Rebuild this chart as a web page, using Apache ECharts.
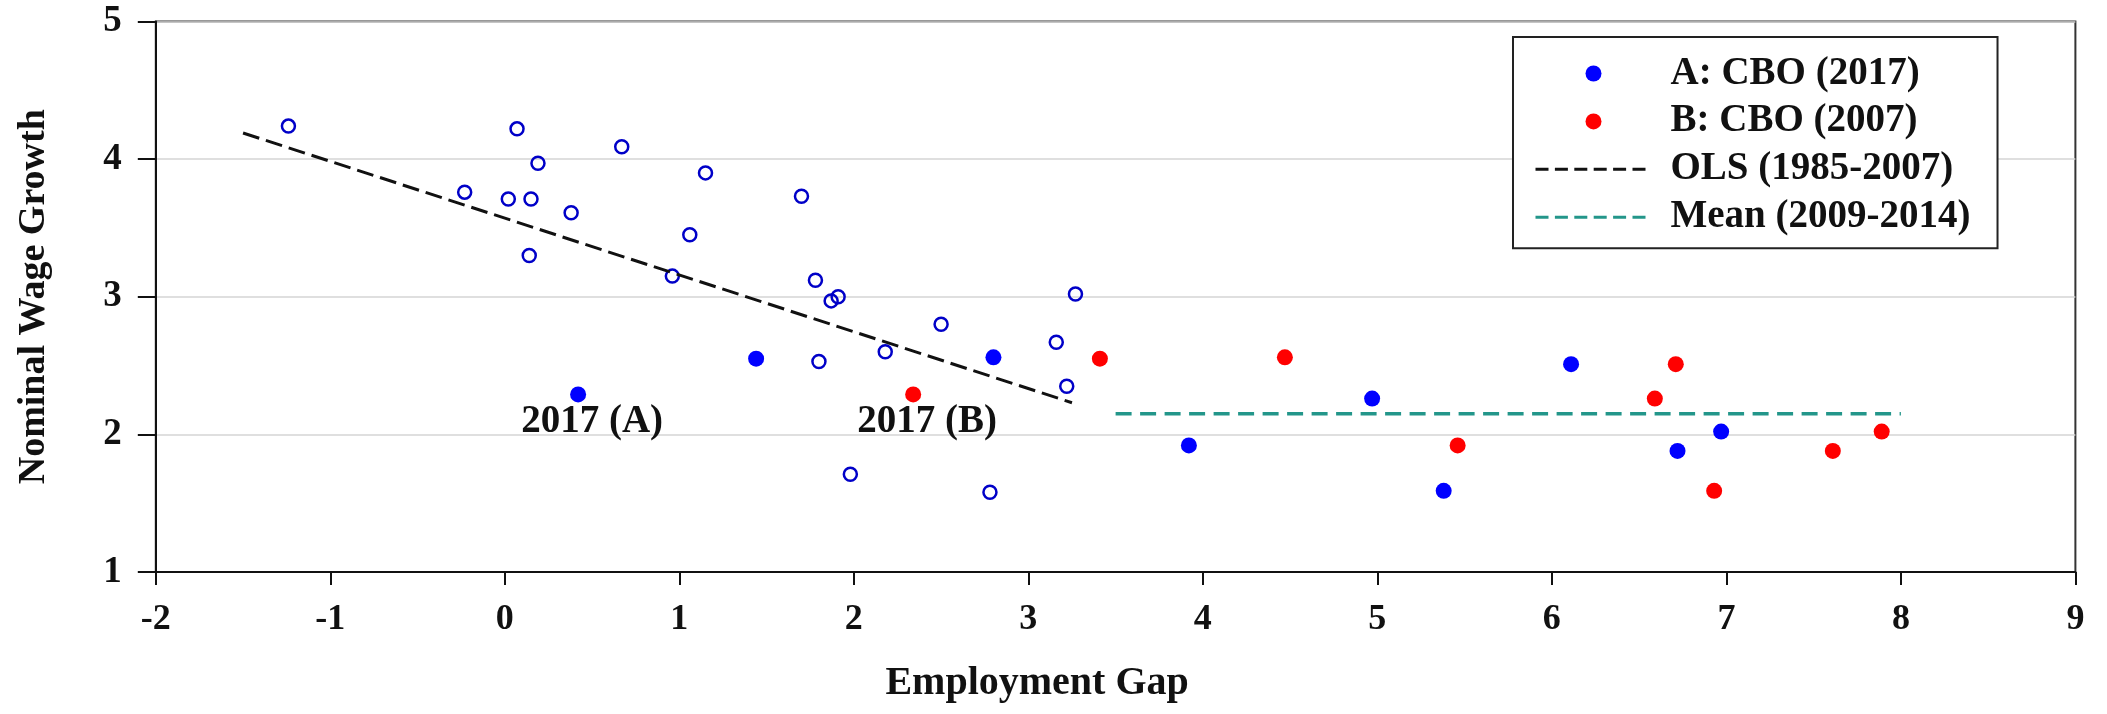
<!DOCTYPE html>
<html>
<head>
<meta charset="utf-8">
<title>Nominal Wage Growth vs Employment Gap</title>
<script src="https://cdn.jsdelivr.net/npm/echarts@6/dist/echarts.min.js"></script>
<style>
  html, body { margin: 0; padding: 0; background: #ffffff; }
  #chart { width: 2107px; height: 714px; }
</style>
</head>
<body>
<div id="chart"></div>
<script>
// Historical observations, 1985-2007: [employment gap, nominal wage growth]
const historical = [
  [-1.24, 4.24], [0.07, 4.22], [0.67, 4.09], [0.19, 3.97], [1.15, 3.90],
  [-0.23, 3.76], [0.02, 3.71], [0.15, 3.71], [0.38, 3.61], [1.06, 3.45],
  [0.14, 3.30], [0.96, 3.15], [1.70, 3.73], [1.78, 3.12], [1.91, 3.00],
  [1.87, 2.97], [3.27, 3.02], [1.80, 2.53], [2.18, 2.60], [2.50, 2.80],
  [3.16, 2.67], [3.22, 2.35], [1.98, 1.71], [2.78, 1.58]
];

// Post-crisis years with the gap measured against the CBO 2017 potential (A)
const cboA = [
  [0.42, 2.29], [1.44, 2.55], [2.80, 2.56], [3.92, 1.92], [4.97, 2.26],
  [5.38, 1.59], [6.11, 2.51], [6.72, 1.88], [6.97, 2.02]
];

// The same years measured against the CBO 2007 potential (B)
const cboB = [
  [2.34, 2.29], [3.41, 2.55], [4.47, 2.56], [5.46, 1.92], [6.59, 2.26],
  [6.71, 2.51], [6.93, 1.59], [7.61, 1.88], [7.89, 2.02]
];

// Fitted OLS line over 1985-2007 (end points)
const olsFit = [[-1.5, 4.19], [3.25, 2.23]];

// Mean wage growth 2009-2014 (end points)
const meanLine = [[3.5, 2.15], [8.0, 2.15]];

const seriesNames = ['A: CBO (2017)', 'B: CBO (2007)', 'OLS (1985-2007)', 'Mean (2009-2014)'];
const annotationA = '2017 (A)';
const annotationB = '2017 (B)';
const xTitle = 'Employment Gap';
const yTitle = 'Nominal Wage Growth';

const SERIF = '"Liberation Serif", "Times New Roman", serif';
const INK = '#111111';
const BLUE = '#0000ff';
const RED = '#ff0000';
const TEAL = '#23968a';

// Tag the first point of each CBO series (2017) with its annotation
function withAnnotation(points, text) {
  return points.map(function (p, i) {
    if (i !== 0) return p;
    return {
      value: p,
      label: {
        show: true,
        formatter: text,
        position: 'bottom',
        distance: 0,
        offset: [14, 0],
        fontFamily: SERIF,
        fontWeight: 'bold',
        fontSize: 39,
        color: INK,
        opacity: 1
      }
    };
  });
}

// Legend entries for the two reference lines show only the dashed stroke
const hiddenDot = { color: 'rgba(0,0,0,0)', borderColor: 'rgba(0,0,0,0)', borderWidth: 0 };

const chart = echarts.init(document.getElementById('chart'), null, { renderer: 'canvas' });

chart.setOption({
  animation: false,
  backgroundColor: '#ffffff',
  grid: {
    left: 155.8, right: 31.6, top: 21.5, bottom: 142,
    containLabel: false,
    outerBoundsMode: 'none',
    show: true,
    borderColor: '#333333',
    borderWidth: 2,
    backgroundColor: 'transparent'
  },
  legend: {
    orient: 'vertical',
    left: 1513,
    top: 37,
    data: [
      { name: seriesNames[0], icon: 'circle' },
      { name: seriesNames[1], icon: 'circle' },
      { name: seriesNames[2], itemStyle: hiddenDot },
      { name: seriesNames[3], itemStyle: hiddenDot }
    ],
    selectedMode: false,
    itemWidth: 116,
    itemHeight: 16,
    itemGap: 8.9,
    padding: [17, 27, 11.5, 21],
    backgroundColor: '#ffffff',
    borderColor: '#222222',
    borderWidth: 2,
    borderRadius: 0,
    lineStyle: { type: [13, 6.4], width: 3 },
    textStyle: {
      fontFamily: SERIF,
      fontWeight: 'bold',
      fontSize: 39,
      color: INK,
      width: 338,
      padding: [0, 0, 0, 14]
    }
  },
  xAxis: {
    type: 'value',
    min: -2,
    max: 9,
    interval: 1,
    name: xTitle,
    nameLocation: 'middle',
    nameGap: 92,
    nameTextStyle: {
      fontFamily: SERIF,
      fontWeight: 'bold',
      fontSize: 40,
      color: INK,
      padding: [0, 157, 0, 0]
    },
    axisLine: { show: true, onZero: false, lineStyle: { color: INK, width: 2 } },
    axisTick: { show: true, length: 13, lineStyle: { color: INK, width: 2 } },
    axisLabel: {
      fontFamily: SERIF,
      fontWeight: 'bold',
      fontSize: 36,
      color: INK,
      margin: 30,
      showMinLabel: true,
      showMaxLabel: true
    },
    splitLine: { show: false }
  },
  yAxis: {
    type: 'value',
    min: 1,
    max: 5,
    interval: 1,
    name: yTitle,
    nameLocation: 'middle',
    nameGap: 103,
    nameTextStyle: {
      fontFamily: SERIF,
      fontWeight: 'bold',
      fontSize: 38,
      color: INK
    },
    axisLine: { show: true, onZero: false, lineStyle: { color: INK, width: 2 } },
    axisTick: { show: true, length: 18, lineStyle: { color: INK, width: 2 } },
    axisLabel: {
      fontFamily: SERIF,
      fontWeight: 'bold',
      fontSize: 37,
      color: INK,
      margin: 34,
      showMinLabel: true,
      showMaxLabel: true
    },
    splitLine: { show: true, lineStyle: { color: '#d4d4d4', width: 1.5 } }
  },
  tooltip: { show: false },
  series: [
    {
      name: 'Historical (1985-2007)',
      type: 'scatter',
      data: historical,
      symbol: 'circle',
      symbolSize: 13,
      itemStyle: { color: 'rgba(0,0,0,0)', borderColor: '#0000c8', borderWidth: 2.5, opacity: 1 },
      emphasis: { disabled: true },
      z: 2
    },
    {
      name: seriesNames[2],
      type: 'line',
      data: olsFit,
      symbol: 'none',
      lineStyle: { color: INK, width: 3, type: [17, 7] },
      itemStyle: { color: INK },
      emphasis: { disabled: true },
      z: 3
    },
    {
      name: seriesNames[3],
      type: 'line',
      data: meanLine,
      symbol: 'none',
      lineStyle: { color: TEAL, width: 3.5, type: [16, 8.5] },
      itemStyle: { color: TEAL },
      emphasis: { disabled: true },
      z: 3
    },
    {
      name: seriesNames[0],
      type: 'scatter',
      data: withAnnotation(cboA, annotationA),
      symbol: 'circle',
      symbolSize: 16,
      itemStyle: { color: BLUE, opacity: 1 },
      emphasis: { disabled: true },
      z: 4
    },
    {
      name: seriesNames[1],
      type: 'scatter',
      data: withAnnotation(cboB, annotationB),
      symbol: 'circle',
      symbolSize: 16,
      itemStyle: { color: RED, opacity: 1 },
      emphasis: { disabled: true },
      z: 4
    }
  ]
});
</script>
</body>
</html>
